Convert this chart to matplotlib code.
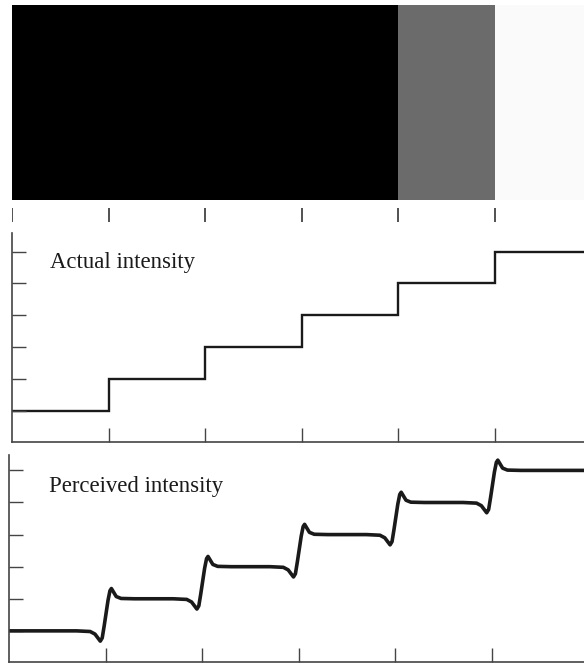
import numpy as np
import matplotlib
matplotlib.use("Agg")
import matplotlib.pyplot as plt

# stripe edges in stripe units (6 stripes), shade of each stripe in the photo
stripe_edges = [0, 1, 2, 3, 4, 5, 6]
stripe_shade = [0.0, 0.0, 0.0, 0.0, 0.42, 0.98]

# actual intensity levels of the stripes
actual_levels = [0, 1, 2, 3, 4, 5]

# perceived plateau levels, and the shape of one transition
# (dx from the stripe edge, dy in levels above the lower plateau)
perceived_levels = [0, 1, 2, 3, 4, 5]
shape_dx = [-0.30, -0.16, -0.11, -0.075, -0.055, -0.035, -0.015, 0.005, 0.025, 0.045, 0.06, 0.08, 0.11, 0.16, 0.30]
shape_dy = [0.00, -0.02, -0.10, -0.24, -0.32, -0.22, 0.15, 0.55, 0.95, 1.25, 1.32, 1.22, 1.07, 1.01, 1.00]

W, H = 584, 665
fig = plt.figure(figsize=(W / 100, H / 100), dpi=100)
fig.patch.set_facecolor("white")

def px_axes(x0, y0, x1, y1):
    # axes from pixel box (top-left origin)
    return fig.add_axes([x0 / W, 1 - y1 / H, (x1 - x0) / W, (y1 - y0) / H])

xmax = (584 - 12) / 96.6
ink = "#1a1a1a"

# photo of the bands
ax_img = px_axes(12, 5, 584, 200)
img = np.array(stripe_shade)[None, :]
ax_img.imshow(img, cmap="gray", vmin=0, vmax=1, aspect="auto",
              extent=(stripe_edges[0], stripe_edges[-1], 0, 1), interpolation="nearest")
ax_img.set_xlim(0, xmax)
ax_img.set_ylim(0, 1)
ax_img.axis("off")

# tick marks under the photo
ax_tk = px_axes(12, 208, 584, 222)
ax_tk.vlines(stripe_edges[:-1], 0, 1, color="#333333", lw=1.2)
ax_tk.set_xlim(0, xmax)
ax_tk.set_ylim(0, 1)
ax_tk.axis("off")

def style(ax, ylo, yhi):
    ax.set_xlim(0, xmax)
    ax.set_ylim(ylo, yhi)
    for s in ["top", "right"]:
        ax.spines[s].set_visible(False)
    for s in ["left", "bottom"]:
        ax.spines[s].set_color("#444444")
        ax.spines[s].set_linewidth(1.2)
    ax.set_xticks(stripe_edges[1:-1])
    ax.set_yticks(actual_levels)
    ax.tick_params(direction="in", length=10, width=1.0, color="#444444",
                   labelbottom=False, labelleft=False)

# actual intensity
ax1 = px_axes(12, 233, 584, 442)
style(ax1, -0.97, 5.58)
ax1.stairs(actual_levels, stripe_edges, baseline=None, color=ink, lw=1.7)
ax1.text(0.39, 4.67, "Actual intensity", family="Liberation Serif", fontsize=16.4,
         color=ink, va="center", ha="left")

# perceived intensity
px = [0]
py = [perceived_levels[0]]
for i, b in enumerate(stripe_edges[1:-1]):
    for dx, dy in zip(shape_dx, shape_dy):
        px.append(b + dx)
        py.append(perceived_levels[i] + dy)
px.append(stripe_edges[-1])
py.append(perceived_levels[-1])

ax2 = px_axes(9, 455, 584, 662)
style(ax2, -0.97, 5.48)
ax2.set_xlim(0, (584 - 9) / 96.6)
ax2.plot(px, py, color=ink, lw=2.6, solid_joinstyle="round")
ax2.text(0.41, 4.49, "Perceived intensity", family="Liberation Serif", fontsize=16.4,
         color=ink, va="center", ha="left")

fig.savefig("out.png", dpi=100, facecolor="white")
